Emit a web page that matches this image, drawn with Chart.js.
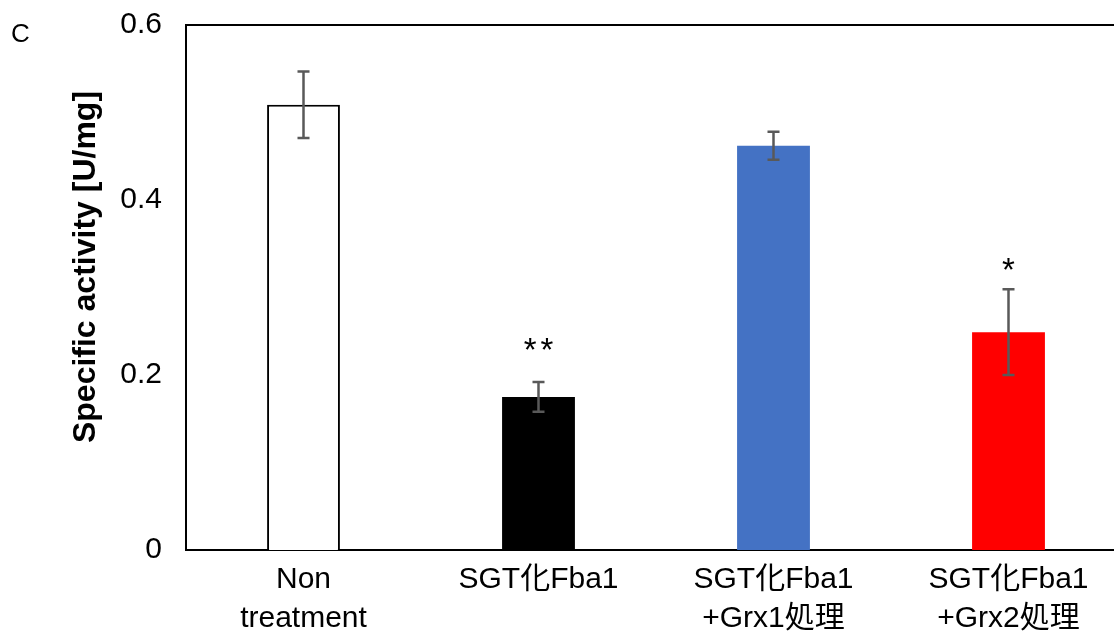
<!DOCTYPE html>
<html>
<head>
<meta charset="utf-8">
<script src="https://cdn.jsdelivr.net/npm/chart.js@4.4.1/dist/chart.umd.min.js"></script>
<style>
  html, body { margin:0; padding:0; background:#fff; overflow:hidden; }
  #wrap { width:1126px; height:635px; }
</style>
</head>
<body>
<div id="wrap"><canvas id="chart" width="1126" height="635"></canvas></div>
<script>
// data
const categories = [['Non', 'treatment'], 'SGT化Fba1', ['SGT化Fba1', '+Grx1処理'], ['SGT化Fba1', '+Grx2処理']];
const activity = [0.509, 0.175, 0.462, 0.249];
const errors = [0.038, 0.017, 0.016, 0.049];
const sigLabels = ['', '**', '', '*'];
const sigAt = [null, 0.235, null, 0.327];
const yTicks = [0, 0.2, 0.4, 0.6];
const yTitle = 'Specific activity [U/mg]';

const barFill = ['#ffffff', '#000000', '#4472c4', '#ff0000'];
const barEdge = ['#000000', '#000000', '#4472c4', '#ff0000'];
const FONT = "Arial, 'Liberation Sans', 'Noto Sans CJK JP', sans-serif";

// error bars, significance stars, y title (sits a bit above the axis middle) and panel letter
const extras = {
  id: 'extras',
  afterDatasetsDraw(chart){
    const {ctx, scales:{x, y}} = chart;
    ctx.save();
    ctx.strokeStyle = '#595959'; ctx.lineWidth = 2.5;
    activity.forEach((v,i)=>{
      const cx = x.getPixelForValue(i);
      const top = y.getPixelForValue(v+errors[i]), bot = y.getPixelForValue(v-errors[i]);
      ctx.beginPath();
      ctx.moveTo(cx, top); ctx.lineTo(cx, bot);
      ctx.moveTo(cx-6, top); ctx.lineTo(cx+6, top);
      ctx.moveTo(cx-6, bot); ctx.lineTo(cx+6, bot);
      ctx.stroke();
    });
    ctx.fillStyle = '#000';
    ctx.font = '33px ' + FONT;
    ctx.textAlign = 'center'; ctx.textBaseline = 'alphabetic';
    ctx.letterSpacing = '4px';
    sigLabels.forEach((s,i)=>{
      if(!s) return;
      const m = ctx.measureText(s);
      const mid = y.getPixelForValue(sigAt[i]);
      const base = mid + (m.actualBoundingBoxAscent - m.actualBoundingBoxDescent)/2;
      ctx.fillText(s, x.getPixelForValue(i)+2, base);
    });
    ctx.letterSpacing = '0px';

    ctx.save();
    ctx.translate(86, 267);
    ctx.rotate(-Math.PI/2);
    ctx.font = 'bold 32px ' + FONT;
    ctx.textAlign = 'center'; ctx.textBaseline = 'middle';
    ctx.fillText(yTitle, 0, 0);
    ctx.restore();

    ctx.font = '26px ' + FONT;
    ctx.textAlign = 'left'; ctx.textBaseline = 'middle';
    ctx.fillText('C', 11, 35);
    ctx.restore();
  }
};

new Chart(document.getElementById('chart'), {
  type: 'bar',
  data: {
    labels: categories,
    datasets: [{
      data: activity,
      backgroundColor: barFill,
      borderColor: barEdge,
      borderWidth: [2, 0, 0, 0],
      barPercentage: 0.31,
      categoryPercentage: 1
    }]
  },
  options: {
    responsive: false,
    animation: false,
    devicePixelRatio: 1,
    layout: { padding: { top: 25, right: 0, left: 0, bottom: 0 } },
    plugins: { legend: { display:false }, tooltip: { enabled:false } },
    scales: {
      x: {
        grid: { display:false, drawTicks:false },
        border: { color:'#000', width:2 },
        ticks: { color:'#000', font:{ family:FONT, size:30, lineHeight:1.3 }, padding:10, maxRotation:0, autoSkip:false },
        afterFit(a){ a.height = 85; a.paddingLeft = 0; a.paddingRight = 0; }
      },
      x2: {
        position: 'top',
        grid: { display:false, drawTicks:false },
        border: { color:'#000', width:2 },
        ticks: { display:false },
        afterFit(a){ a.height = 0; a.paddingLeft = 0; a.paddingRight = 0; }
      },
      y: {
        min: 0, max: 0.6,
        afterBuildTicks(a){ a.ticks = yTicks.map(v=>({value:v})); },
        grid: { display:false, drawTicks:false },
        border: { color:'#000', width:2 },
        ticks: { color:'#000', font:{ family:FONT, size:30 }, padding:24, callback:v=>String(v) },
        afterFit(a){ a.width = 186; a.paddingTop = 0; a.paddingBottom = 0; }
      }
    }
  },
  plugins: [extras]
});
</script>
</body>
</html>
